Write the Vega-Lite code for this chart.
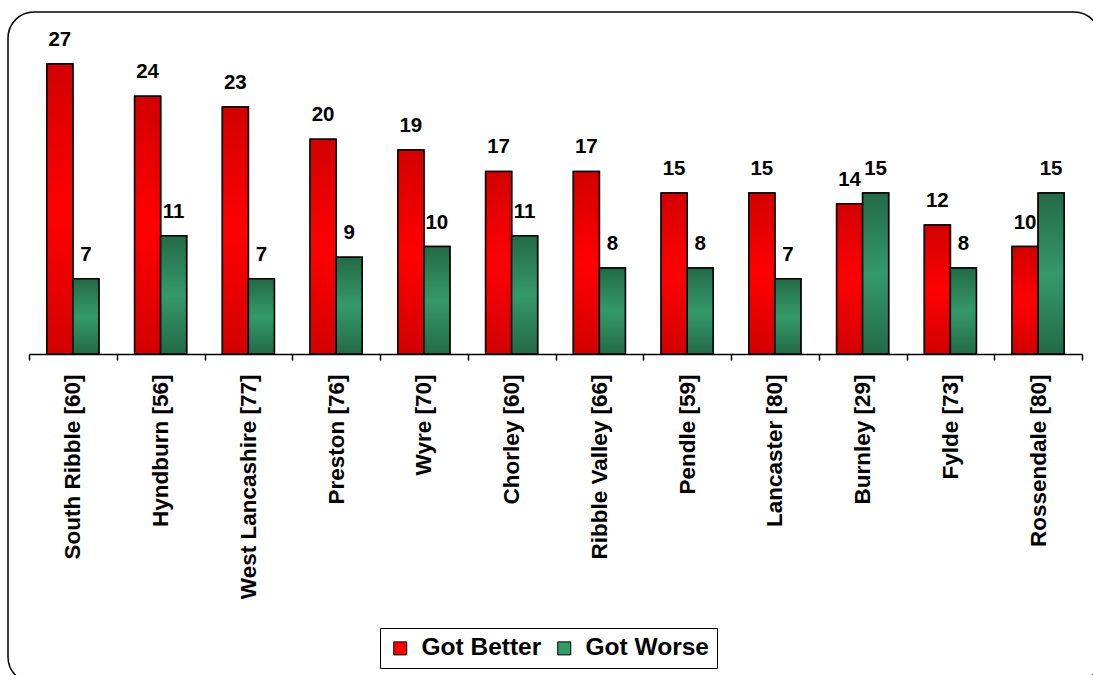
{
  "$schema": "https://vega.github.io/schema/vega-lite/v6.json",
  "width": 1092,
  "height": 671,
  "autosize": "none",
  "padding": {"left": 8, "top": 12, "right": -7, "bottom": -8},
  "background": "white",
  "config": {
    "view": {"stroke": "black", "strokeWidth": 1.5, "cornerRadius": 26, "fill": "white"},
    "font": "Liberation Sans"
  },
  "data": {
    "values": [
      {"area": "South Ribble [60]", "series": "Got Better", "value": 27},
      {"area": "South Ribble [60]", "series": "Got Worse", "value": 7},
      {"area": "Hyndburn [56]", "series": "Got Better", "value": 24},
      {"area": "Hyndburn [56]", "series": "Got Worse", "value": 11},
      {"area": "West Lancashire [77]", "series": "Got Better", "value": 23},
      {"area": "West Lancashire [77]", "series": "Got Worse", "value": 7},
      {"area": "Preston [76]", "series": "Got Better", "value": 20},
      {"area": "Preston [76]", "series": "Got Worse", "value": 9},
      {"area": "Wyre [70]", "series": "Got Better", "value": 19},
      {"area": "Wyre [70]", "series": "Got Worse", "value": 10},
      {"area": "Chorley [60]", "series": "Got Better", "value": 17},
      {"area": "Chorley [60]", "series": "Got Worse", "value": 11},
      {"area": "Ribble Valley [66]", "series": "Got Better", "value": 17},
      {"area": "Ribble Valley [66]", "series": "Got Worse", "value": 8},
      {"area": "Pendle [59]", "series": "Got Better", "value": 15},
      {"area": "Pendle [59]", "series": "Got Worse", "value": 8},
      {"area": "Lancaster [80]", "series": "Got Better", "value": 15},
      {"area": "Lancaster [80]", "series": "Got Worse", "value": 7},
      {"area": "Burnley [29]", "series": "Got Better", "value": 14},
      {"area": "Burnley [29]", "series": "Got Worse", "value": 15},
      {"area": "Fylde [73]", "series": "Got Better", "value": 12},
      {"area": "Fylde [73]", "series": "Got Worse", "value": 8},
      {"area": "Rossendale [80]", "series": "Got Better", "value": 10},
      {"area": "Rossendale [80]", "series": "Got Worse", "value": 15}
    ]
  },
  "encoding": {
    "x": {
      "field": "area",
      "type": "nominal",
      "sort": null,
      "scale": {"range": [21, 1074], "paddingInner": 0, "paddingOuter": 0},
      "axis": {
        "orient": "bottom",
        "offset": -329,
        "title": null,
        "domainColor": "black",
        "domainWidth": 1.5,
        "tickColor": "black",
        "tickWidth": 1.5,
        "tickSize": 6,
        "tickBand": "extent",
        "labelAngle": -90,
        "labelAlign": "right",
        "labelBaseline": "middle",
        "labelFontSize": 22.5,
        "labelFontWeight": "bold",
        "labelColor": "black",
        "labelPadding": 14,
        "labelLimit": 0
      }
    },
    "xOffset": {
      "field": "series",
      "type": "nominal",
      "scale": {"domain": ["Got Better", "Got Worse"], "paddingInner": 0, "paddingOuter": 0.6875}
    },
    "y": {
      "field": "value",
      "type": "quantitative",
      "scale": {"domain": [0, 27], "range": [342, 52], "nice": false, "zero": true},
      "axis": null
    }
  },
  "layer": [
    {
      "mark": {"type": "bar", "stroke": "black", "strokeWidth": 1.5},
      "encoding": {
        "color": {
          "field": "series",
          "type": "nominal",
          "scale": {"domain": ["Got Better", "Got Worse"], "range": ["#FF0000", "#339966"]},
          "legend": {
            "orient": "none",
            "legendX": 372,
            "legendY": 616,
            "direction": "horizontal",
            "title": null,
            "strokeColor": "black",
            "padding": 8,
            "symbolType": "square",
            "symbolSize": 169,
            "symbolStrokeColor": "black",
            "symbolStrokeWidth": 1,
            "symbolOpacity": 1,
            "labelFontSize": 24.5,
            "labelFontWeight": "bold",
            "labelColor": "black",
            "labelOffset": 9,
            "columnPadding": 10,
            "labelLimit": 0
          }
        }
      }
    },
    {
      "transform": [{"filter": "datum.series == 'Got Better'"}],
      "mark": {
        "type": "bar",
        "stroke": "black",
        "strokeWidth": 1.5,
        "fill": {
          "gradient": "linear", "x1": 0, "y1": 0, "x2": 0, "y2": 1,
          "stops": [
            {"offset": 0, "color": "#D20000"},
            {"offset": 0.5, "color": "#FF0000"},
            {"offset": 1, "color": "#D20000"}
          ]
        }
      }
    },
    {
      "transform": [{"filter": "datum.series == 'Got Worse'"}],
      "mark": {
        "type": "bar",
        "stroke": "black",
        "strokeWidth": 1.5,
        "fill": {
          "gradient": "linear", "x1": 0, "y1": 0, "x2": 0, "y2": 1,
          "stops": [
            {"offset": 0, "color": "#236A46"},
            {"offset": 0.5, "color": "#35996A"},
            {"offset": 1, "color": "#236A46"}
          ]
        }
      }
    },
    {
      "mark": {"type": "text", "font": "Liberation Sans", "fontSize": 20.5, "fontWeight": "bold", "color": "black", "baseline": "alphabetic", "dy": -18},
      "encoding": {"text": {"field": "value", "type": "quantitative"}}
    }
  ]
}
